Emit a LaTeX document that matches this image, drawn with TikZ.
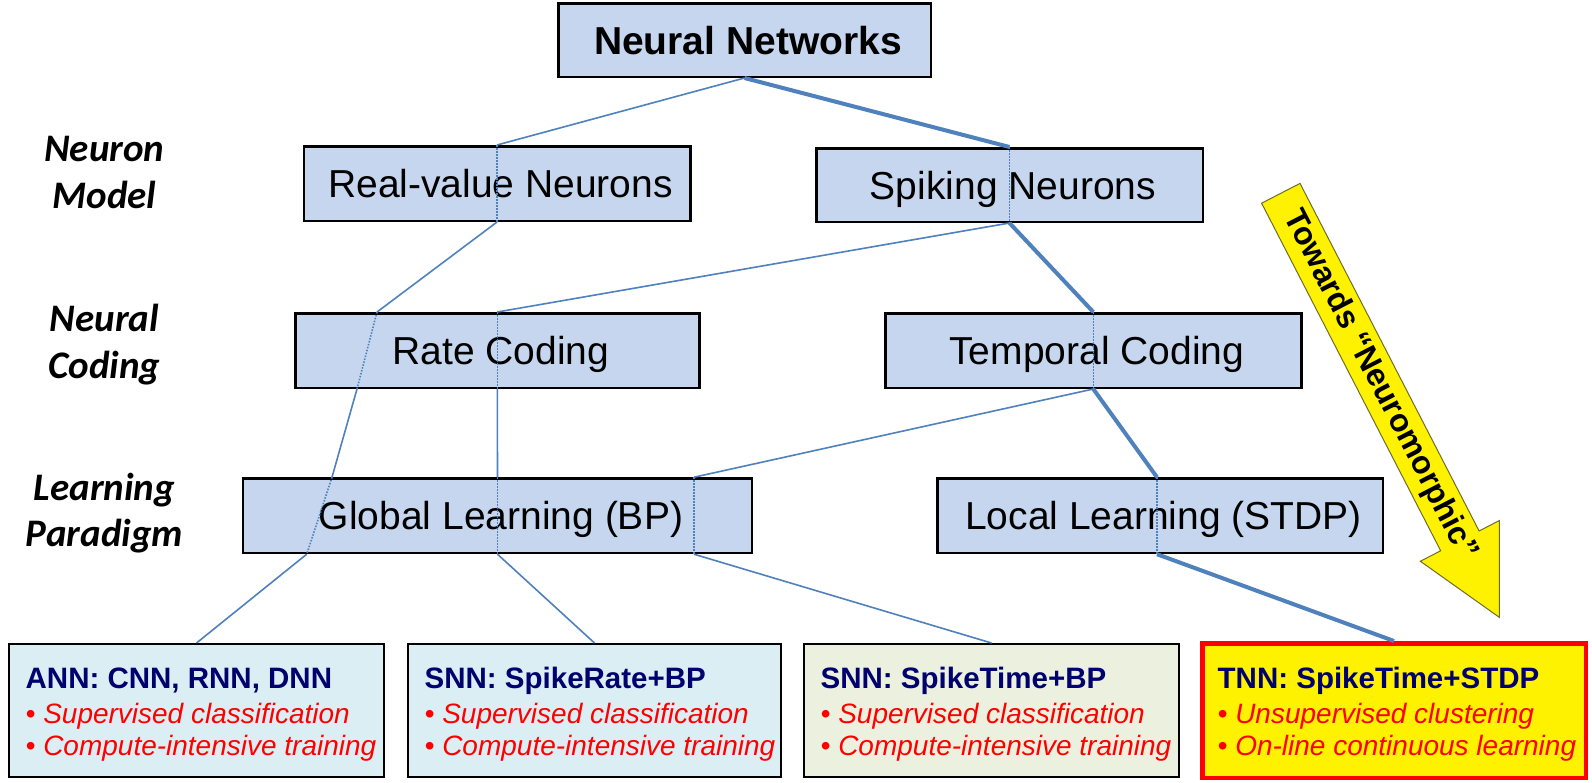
\documentclass[tikz,border=0pt]{standalone}
\usepackage{fontspec}
\setmainfont{Liberation Sans}
\newfontfamily\calib{Carlito}
\usetikzlibrary{calc}
\definecolor{boxblue}{RGB}{197,214,238}
\definecolor{cyanbox}{RGB}{218,238,243}
\definecolor{olivebox}{RGB}{235,241,222}
\definecolor{lineblue}{RGB}{79,129,189}
\definecolor{navytext}{RGB}{0,0,110}
\definecolor{arrowedge}{RGB}{110,110,40}
\begin{document}
\begin{tikzpicture}[x=1pt,y=1pt,
  catbox/.style={draw=black, line width=2.5pt, fill=boxblue, inner sep=0pt, text height=28pt, text depth=0pt, font=\fontsize{39}{47}\selectfont, execute at begin node={\hspace*{7pt}}},
  leafbox/.style={draw=black, line width=2pt, inner sep=0pt, minimum height=133pt},
  rowlabel/.style={anchor=base, inner sep=0pt, font=\calib\bfseries\itshape\fontsize{39}{47}\selectfont},
  leaftitle/.style={anchor=base west, text=navytext, font=\bfseries\fontsize{29.5}{35}\selectfont, inner sep=0pt},
  leafitem/.style={anchor=base west, text=red, font=\itshape\fontsize{28}{33}\selectfont, inner sep=0pt},
  thinline/.style={draw=lineblue, line width=1.6pt},
  thickline/.style={draw=lineblue, line width=4pt},
  hidden/.style={draw=lineblue, line width=1.6pt, dash pattern=on 1.5pt off 1.5pt},
]
\fill[white] (0,0) rectangle (1592,-782);
\useasboundingbox (0,0) rectangle (1592,-782);

% row labels
\node[rowlabel] (lblA1) at (104.5,-161.7) {Neuron};
\node[rowlabel] (lblA2) at (104.5,-208.3) {Model};
\node[rowlabel] (lblB1) at (104.5,-331.7) {Neural};
\node[rowlabel] (lblB2) at (104.5,-378.3) {Coding};
\node[rowlabel] (lblC1) at (104.5,-500) {Learning};
\node[rowlabel] (lblC2) at (104.5,-546.7) {Paradigm};

% category boxes
\node[catbox, minimum width=372.5pt, minimum height=73.5pt, font=\bfseries\fontsize{39}{47}\selectfont] (nn) at (744.5,-40) {Neural Networks};
\node[catbox, minimum width=386.5pt, minimum height=74.5pt] (rv) at (497,-183.5) {Real-value Neurons};
\node[catbox, minimum width=386.5pt, minimum height=73.5pt] (sn) at (1009.5,-185) {Spiking Neurons};
\node[catbox, minimum width=404pt, minimum height=74.5pt] (rc) at (497.3,-350.5) {Rate Coding};
\node[catbox, minimum width=416pt, minimum height=74.5pt] (tc) at (1093.3,-350.5) {Temporal Coding};
\node[catbox, minimum width=509.3pt, minimum height=74.5pt] (gl) at (497.5,-515.7) {Global Learning (BP)};
\node[catbox, minimum width=445.5pt, minimum height=74.5pt] (ll) at (1160,-515.7) {Local Learning (STDP)};

% leaf boxes
\node[leafbox, fill=cyanbox, minimum width=375pt] (ann) at (196.5,-710.5) {};
\node[leafbox, fill=cyanbox, minimum width=373pt] (snnr) at (594.5,-710.5) {};
\node[leafbox, fill=olivebox, minimum width=375pt] (snnt) at (991.5,-710.5) {};
\node[leafbox, fill=yellow, draw=red, line width=4.5pt, minimum width=383.5pt, minimum height=134.5pt] (tnn) at (1394,-710.5) {};

\node[leaftitle] (annT) at (25.5,-688) {ANN: CNN, RNN, DNN};
\node[leafitem] (annA) at (25.5,-723) {• Supervised classification};
\node[leafitem] (annB) at (25.5,-755) {• Compute-intensive training};
\node[leaftitle] (snnrT) at (424.5,-688) {SNN: SpikeRate+BP};
\node[leafitem] (snnrA) at (424.5,-723) {• Supervised classification};
\node[leafitem] (snnrB) at (424.5,-755) {• Compute-intensive training};
\node[leaftitle] (snntT) at (820.5,-688) {SNN: SpikeTime+BP};
\node[leafitem] (snntA) at (820.5,-723) {• Supervised classification};
\node[leafitem] (snntB) at (820.5,-755) {• Compute-intensive training};
\node[leaftitle] (tnnT) at (1217.5,-688) {TNN: SpikeTime+STDP};
\node[leafitem] (tnnA) at (1217.5,-723) {• Unsupervised clustering};
\node[leafitem] (tnnB) at (1217.5,-755) {• On-line continuous learning};

% crossing points
\coordinate (rcA) at ($(rc.north)+(-120.3,0)$);
\coordinate (rcB) at ($(rc.south)+(-140.3,0)$);
\coordinate (glA) at ($(gl.north)+(-165.5,0)$);
\coordinate (glB) at ($(gl.south)+(-190.8,0)$);
\coordinate (glC) at ($(gl.north)+(196.5,0)$);
\coordinate (glD) at ($(gl.south)+(196.5,0)$);
\coordinate (llA) at ($(ll.north)+(-3,0)$);
\coordinate (llB) at ($(ll.south)+(-3,0)$);

% connectors
\draw[thinline] (nn.south) -- (rv.north);
\draw[hidden] (rv.north) -- (rv.south);
\draw[thinline] (rv.south) -- (rcA);
\draw[hidden] (rcA) -- (rcB);
\draw[thinline] (rcB) -- (glA);
\draw[hidden] (glA) -- (glB);
\draw[thinline] (glB) -- (ann.north);

\draw[thickline] (nn.south) -- (sn.north);
\draw[hidden] (sn.north) -- (sn.south);
\draw[thinline] (sn.south) -- (rc.north);
\draw[hidden] (rc.north) -- (rc.south);
\draw[thinline] (rc.south) -- (gl.north);
\draw[hidden] (gl.north) -- (gl.south);
\draw[thinline] (gl.south) -- (snnr.north);

\draw[thickline] (sn.south) -- (tc.north);
\draw[hidden] (tc.north) -- (tc.south);
\draw[thinline] (tc.south) -- (glC);
\draw[hidden] (glC) -- (glD);
\draw[thinline] (glD) -- (snnt.north);
\draw[thickline] (tc.south) -- (llA);
\draw[hidden] (llA) -- (llB);
\draw[thickline] (llB) -- (tnn.north);

% towards neuromorphic arrow
\begin{scope}[shift={(1280.8,-193.3)}, rotate=-62.74]
\draw[fill=yellow, draw=arrowedge, line width=1pt] (0,21.6) -- (391,21.6) -- (391,44.5) -- (477,0) -- (391,-44.5) -- (391,-21.6) -- (0,-21.6) -- cycle;
\node[rotate=-62.74, inner sep=0pt, font=\bfseries\fontsize{32}{38}\selectfont] (towards) at (216,0) {Towards “Neuromorphic”};
\end{scope}
\end{tikzpicture}
\end{document}
